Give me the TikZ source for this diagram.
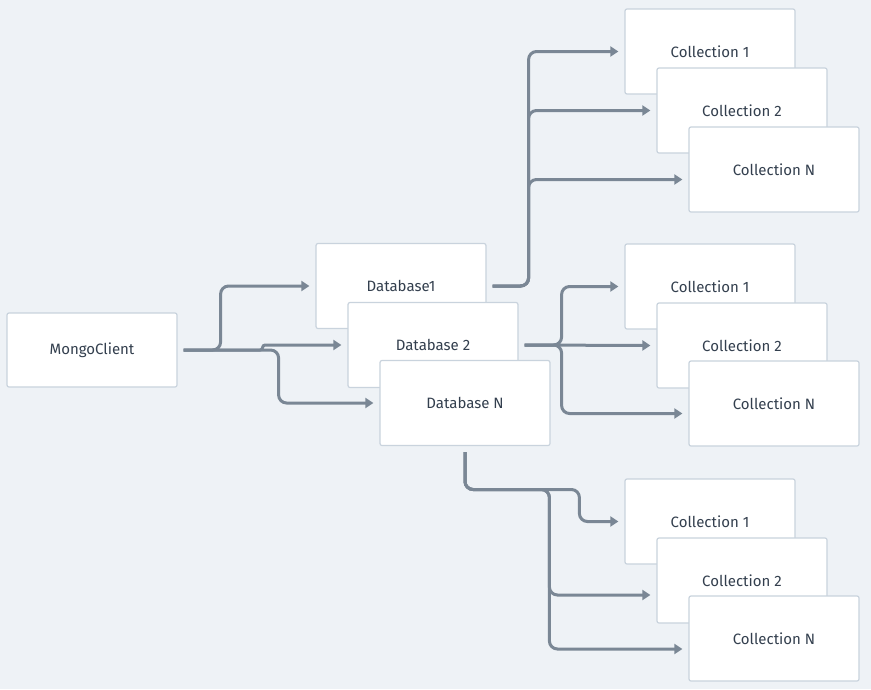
\documentclass[tikz,border=0pt]{standalone}
\usepackage{fontspec}
\setmainfont{Fira Sans}
\usetikzlibrary{positioning,arrows.meta}
\definecolor{bgcol}{HTML}{EEF2F6}
\definecolor{boxline}{HTML}{C9D3DD}
\definecolor{linkcol}{HTML}{7A8795}
\definecolor{txtcol}{HTML}{333F4E}
\tikzset{%
  box/.style={%
    draw=boxline,
    fill=white,
    line width=1.2pt,
    rounded corners=2pt,
    minimum width=170pt,
    minimum height=85pt,
    text=txtcol,
    font=\fontsize{15}{17}\selectfont%
  },
  clnode/.style={%
    box,
    minimum height=74pt%
  },
  dbnode/.style={box},
  colnode/.style={box},
  conn/.style={%
    draw=linkcol,
    line width=3pt,
    rounded corners=8pt,
    -{Triangle[length=8pt,width=10pt]},
    shorten <=6pt,
    shorten >=6pt%
  }
}
\begin{document}
\begin{tikzpicture}[x=1pt,y=-1pt]
      \fill[bgcol] (0,0) rectangle (871,689);
      \useasboundingbox (0,0) rectangle (871,689);

      \node[clnode] (mc)  at (92,350)  {MongoClient};
      \node[dbnode] (db1) at (401,286) {Database1};
      \node[dbnode] (db2) at (433,345) {Database 2};
      \node[dbnode] (dbn) at (465,403) {Database N};

      \node[colnode] (t1) at (710,51.5)  {Collection 1};
      \node[colnode] (t2) at (742,110.5) {Collection 2};
      \node[colnode] (tn) at (774,169.5) {Collection N};

      \node[colnode] (m1) at (710,286.5) {Collection 1};
      \node[colnode] (m2) at (742,345.5) {Collection 2};
      \node[colnode] (mn) at (774,403.5) {Collection N};

      \node[colnode] (b1) at (710,521.5) {Collection 1};
      \node[colnode] (b2) at (742,580.5) {Collection 2};
      \node[colnode] (bn) at (774,638.5) {Collection N};

      \draw[conn] (mc.east) -- ++(43,0) |- (db1.west);
      \draw[conn, rounded corners=2.5pt] (mc.east) -- ++(85,0) |- (db2.west);
      \draw[conn] (mc.east) -- ++(101,0) |- (dbn.west);

      \draw[conn] (db1.east) -- ++(42,0) |- (t1.west);
      \draw[conn] (db1.east) -- ++(42,0) |- (t2.west);
      \draw[conn] (db1.east) -- ++(42,0) |- ([yshift=-10pt]tn.west);

      \draw[conn] (db2.east) -- ++(43,0) |- (m1.west);
      \draw[conn] (db2.east) -- (m2.west);
      \draw[conn] (db2.east) -- ++(43,0) |- ([yshift=-10pt]mn.west);

      \draw[conn] (dbn.south) |- ([xshift=-45pt,yshift=32pt]b1.west) |- (b1.west);
      \draw[conn] (dbn.south) |- ([xshift=-107pt,yshift=91pt]b2.west) |- ([yshift=-14.5pt]b2.west);
      \draw[conn] (dbn.south) |- ([xshift=-139pt,yshift=149pt]bn.west) |- ([yshift=-10.5pt]bn.west);
    \end{tikzpicture}
\end{document}
